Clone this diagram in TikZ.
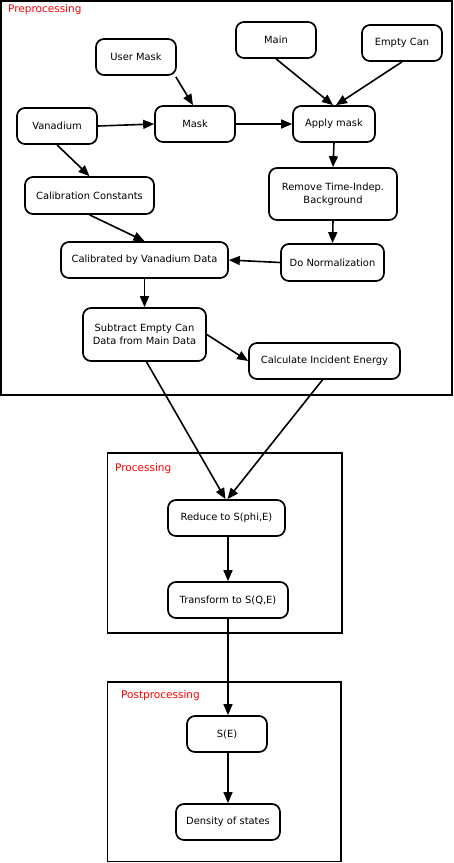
\documentclass[tikz,border=0pt]{standalone}
\usepackage{fontspec}
\setmainfont{DejaVu Sans}
\usetikzlibrary{arrows.meta}
\tikzset{
  box/.style={draw, line width=1.7pt, rounded corners=8pt, fill=white, align=center,
    inner sep=1pt, font=\fontsize{9.9}{13}\selectfont},
  frame/.style={draw, line width=1.7pt},
  lbl/.style={text=red, anchor=west, inner sep=0pt, font=\fontsize{10.5}{12}\selectfont},
  arr/.style={line width=1.6pt, -{Triangle[length=11pt,width=9pt]}},
}
\begin{document}
\begin{tikzpicture}[x=1pt,y=-1pt]
\useasboundingbox (0,0) rectangle (453,863);
% frames
\draw[frame] (1,1) rectangle (452,395);
\draw[frame] (107.5,453) rectangle (342,633);
\draw[frame] (107.5,682) rectangle (341,861.5);
\node[lbl] (lpre) at (8,10) {Preprocessing};
\node[lbl] (lpro) at (115,469) {Processing};
\node[lbl] (lpost) at (121,696) {Postprocessing};
% nodes
\node[box, minimum width=80pt, minimum height=36pt] (um) at (136,57) {User Mask};
\node[box, minimum width=80pt, minimum height=36pt] (main) at (276,40) {Main};
\node[box, minimum width=80pt, minimum height=36pt] (ec) at (402,43) {Empty Can};
\node[box, minimum width=80pt, minimum height=36pt] (van) at (57,126) {Vanadium};
\node[box, minimum width=80pt, minimum height=36pt] (mask) at (195,124) {Mask};
\node[box, minimum width=82pt, minimum height=36pt] (apply) at (334,124) {Apply mask};
\node[box, minimum width=129pt, minimum height=37pt] (cc) at (89.5,195.5) {Calibration Constants};
\node[box, minimum width=128pt, minimum height=52pt] (rtib) at (333,194) {Remove Time-Indep.\\Background};
\node[box, minimum width=167pt, minimum height=36pt] (cvd) at (144.5,260) {Calibrated by Vanadium Data};
\node[box, minimum width=103pt, minimum height=37pt] (dn) at (332.5,262.5) {Do Normalization};
\node[box, minimum width=123pt, minimum height=53pt] (sub) at (144.5,334.5) {Subtract Empty Can\\Data from Main Data};
\node[box, minimum width=151pt, minimum height=36pt] (cie) at (324.5,361) {Calculate Incident Energy};
\node[box, minimum width=117pt, minimum height=36pt] (red) at (226.5,518) {Reduce to S(phi,E)};
\node[box, minimum width=120pt, minimum height=36pt] (tr) at (228,600) {Transform to S(Q,E)};
\node[box, minimum width=80pt, minimum height=36pt] (se) at (227,734) {S(E)};
\node[box, minimum width=104pt, minimum height=36pt] (dos) at (228,822) {Density of states};
% connectors
\draw[arr] ([shift={(-1,1)}]um.south east) -- ([xshift=-2]mask.north);
\draw[arr] (main.south) -- ([xshift=-1]apply.north);
\draw[arr] (ec.south) -- ([xshift=2]apply.north);
\draw[arr] (van.east) -- (mask.west);
\draw[arr] (mask.east) -- (apply.west);
\draw[arr] (van.south) -- (cc.north);
\draw[arr] (apply.south) -- (rtib.north);
\draw[arr] (cc.south) -- (cvd.north);
\draw[arr] (rtib.south) -- (dn.north);
\draw[arr] (dn.west) -- (cvd.east);
\draw[arr] (cvd.south) -- (sub.north);
\draw[arr] (sub.east) -- (cie.west);
\draw[arr] ([xshift=2]sub.south) -- ([xshift=-1]red.north);
\draw[arr] ([xshift=-2]cie.south) -- ([xshift=1]red.north);
\draw[arr] ([xshift=1.5]red.south) -- (tr.north);
\draw[arr] (tr.south) -- (se.north -| tr.south);
\draw[arr] (se.south -| tr.south) -- (dos.north);
\end{tikzpicture}
\end{document}
